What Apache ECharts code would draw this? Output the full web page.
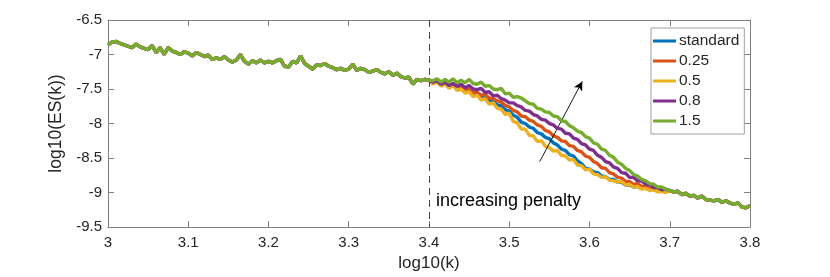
<!DOCTYPE html>
<html>
<head>
<meta charset="utf-8">
<script src="https://cdn.jsdelivr.net/npm/echarts@6/dist/echarts.min.js"></script>
<style>
html,body{margin:0;padding:0;background:#fff;}
#c{width:830px;height:277px;}
</style>
</head>
<body>
<div id="c"></div>
<script>
// x grid: log10(k) from 3.000 to 3.800, step 0.005
var xStart = 3.0, xStep = 0.005;

// shared segment 3.000 - 3.400 (all curves coincide)
var headAll = [
 -6.86,-6.82,-6.81,-6.84,-6.86,-6.88,-6.90,-6.85,-6.89,-6.91,
 -6.93,-6.87,-6.97,-6.90,-7.00,-6.90,-6.95,-6.97,-7.00,-6.96,
 -6.98,-7.02,-6.97,-7.00,-7.03,-7.01,-7.07,-7.05,-7.07,-7.03,
 -7.08,-7.11,-7.08,-7.00,-7.10,-7.14,-7.09,-7.12,-7.08,-7.12,
 -7.10,-7.12,-7.09,-7.07,-7.17,-7.18,-7.10,-7.12,-7.02,-7.13,
 -7.17,-7.21,-7.15,-7.16,-7.13,-7.17,-7.19,-7.22,-7.20,-7.23,
 -7.21,-7.14,-7.23,-7.20,-7.22,-7.26,-7.24,-7.22,-7.26,-7.28,
 -7.25,-7.30,-7.27,-7.32,-7.34,-7.33,-7.43,-7.36,-7.38,-7.36,
 -7.37
];

// individual segments 3.405 - 3.695
var midStandard = [
 -7.41,-7.40,-7.45,-7.42,-7.47,-7.44,-7.49,-7.49,-7.53,-7.53,
 -7.57,-7.58,-7.62,-7.61,-7.67,-7.68,-7.73,-7.74,-7.80,-7.82,
 -7.88,-7.91,-7.98,-8.00,-8.05,-8.07,-8.13,-8.15,-8.20,-8.22,
 -8.28,-8.31,-8.37,-8.39,-8.45,-8.47,-8.54,-8.58,-8.65,-8.66,
 -8.70,-8.71,-8.76,-8.77,-8.81,-8.81,-8.85,-8.85,-8.89,-8.89,
 -8.92,-8.91,-8.94,-8.93,-8.96,-8.95,-8.97,-8.96,-8.98
];
var mid025 = [
 -7.41,-7.39,-7.44,-7.41,-7.46,-7.43,-7.48,-7.48,-7.51,-7.51,
 -7.55,-7.55,-7.59,-7.58,-7.63,-7.64,-7.67,-7.69,-7.74,-7.76,
 -7.81,-7.83,-7.89,-7.90,-7.95,-7.97,-8.02,-8.04,-8.10,-8.12,
 -8.18,-8.20,-8.25,-8.26,-8.32,-8.33,-8.39,-8.41,-8.47,-8.49,
 -8.55,-8.58,-8.64,-8.65,-8.71,-8.73,-8.78,-8.79,-8.84,-8.84,
 -8.88,-8.87,-8.91,-8.91,-8.94,-8.93,-8.96,-8.95,-8.97
];
var mid05 = [
 -7.43,-7.39,-7.46,-7.42,-7.49,-7.44,-7.52,-7.50,-7.56,-7.54,
 -7.61,-7.59,-7.66,-7.64,-7.72,-7.70,-7.78,-7.79,-7.87,-7.85,
 -7.97,-7.99,-8.08,-8.08,-8.17,-8.18,-8.26,-8.25,-8.33,-8.35,
 -8.40,-8.39,-8.46,-8.47,-8.53,-8.52,-8.60,-8.61,-8.67,-8.66,
 -8.73,-8.74,-8.78,-8.77,-8.82,-8.83,-8.85,-8.84,-8.89,-8.88,
 -8.92,-8.91,-8.95,-8.94,-8.97,-8.96,-8.99,-8.98,-9.00
];
var mid08 = [
 -7.40,-7.38,-7.43,-7.40,-7.45,-7.42,-7.46,-7.43,-7.48,-7.45,
 -7.50,-7.51,-7.49,-7.55,-7.54,-7.60,-7.59,-7.64,-7.66,-7.70,
 -7.70,-7.74,-7.76,-7.81,-7.82,-7.87,-7.89,-7.94,-7.95,-8.00,
 -8.02,-8.07,-8.08,-8.14,-8.15,-8.21,-8.23,-8.29,-8.31,-8.37,
 -8.39,-8.46,-8.49,-8.55,-8.57,-8.63,-8.65,-8.71,-8.72,-8.78,
 -8.78,-8.83,-8.83,-8.88,-8.88,-8.93,-8.92,-8.96,-8.95
];
var mid15 = [
 -7.38,-7.35,-7.40,-7.36,-7.40,-7.35,-7.41,-7.37,-7.41,-7.36,
 -7.42,-7.43,-7.40,-7.46,-7.45,-7.50,-7.51,-7.49,-7.57,-7.56,
 -7.62,-7.61,-7.63,-7.67,-7.71,-7.72,-7.78,-7.79,-7.83,-7.84,
 -7.89,-7.90,-7.96,-7.97,-8.03,-8.06,-8.11,-8.13,-8.19,-8.21,
 -8.28,-8.30,-8.37,-8.39,-8.46,-8.49,-8.56,-8.59,-8.65,-8.68,
 -8.74,-8.76,-8.81,-8.83,-8.87,-8.88,-8.92,-8.92,-8.95
];

// shared segment 3.700 - 3.800
var tailAll = [
 -8.97,-8.99,-8.98,-9.03,-9.01,-9.05,-9.04,-9.08,-9.05,-9.10,
 -9.11,-9.12,-9.10,-9.14,-9.12,-9.15,-9.17,-9.15,-9.21,-9.22,
 -9.19
];

var seriesNames = ['standard', '0.25', '0.5', '0.8', '1.5'];
var seriesMids = [midStandard, mid025, mid05, mid08, mid15];
var seriesColors = ['#0072BD', '#D95319', '#EDB120', '#7E2F8E', '#77AC30'];

var yTicks = { min: -9.5, max: -6.5, step: 0.5 };
var xTicks = { min: 3, max: 3.8, step: 0.1 };
var dashedX = 3.4;
var arrowFrom = [3.538, -8.55];
var arrowTo = [3.591, -7.39];
var annotation = 'increasing penalty';

function buildData(mid) {
  var ys = headAll.concat(mid, tailAll);
  var out = [];
  for (var i = 0; i < ys.length; i++) {
    out.push([+(xStart + i * xStep).toFixed(3), ys[i]]);
  }
  return out;
}

var FONT = '"Liberation Sans", Arial, Helvetica, sans-serif';
var AXC = '#7f7f7f';
var TXT = '#262626';

var series = seriesNames.map(function (n, k) {
  return {
    name: n, type: 'line', data: buildData(seriesMids[k]),
    showSymbol: false, symbol: 'none', sampling: null,
    lineStyle: { color: seriesColors[k], width: 3.4 },
    itemStyle: { color: seriesColors[k] },
    z: 2 + k
  };
});

series.push({
  name: '_annot', type: 'line', data: [], silent: true,
  markLine: {
    silent: true, animation: false,
    label: { show: false },
    data: [
      [{ xAxis: dashedX, yAxis: yTicks.max, symbol: 'none', lineStyle: { color: '#444', type: [7, 5], width: 1 } },
       { xAxis: dashedX, yAxis: yTicks.min, symbol: 'none' }],
      [{ coord: arrowFrom, symbol: 'none', lineStyle: { color: '#000', type: 'solid', width: 0.9 } },
       { coord: arrowTo, symbol: 'arrow', symbolSize: [7, 9] }]
    ]
  },
  z: 10
});

var chart = echarts.init(document.getElementById('c'), null, { renderer: 'canvas' });
var fmtX = function (v) { return String(+(+v).toFixed(1)); };
var fmtY = function (v) { return String(+(+v).toFixed(1)); };

chart.setOption({
  animation: false,
  backgroundColor: '#fff',
  textStyle: { fontFamily: FONT },
  grid: { left: 108, right: 80, top: 20, bottom: 45, containLabel: false },
  legend: {
    data: seriesNames,
    orient: 'vertical',
    left: 651, top: 28,
    padding: [5, 5, 5, 2],
    itemWidth: 23, itemHeight: 3, itemGap: 4,
    icon: 'rect',
    backgroundColor: '#fff',
    borderColor: '#a0a0a0', borderWidth: 1, borderRadius: 0,
    textStyle: { fontFamily: FONT, fontSize: 15.5, color: TXT, lineHeight: 15.5, padding: [0, 0, 0, -2] },
    selectedMode: false
  },
  xAxis: [{
    type: 'value', min: xTicks.min, max: xTicks.max, interval: xTicks.step,
    name: 'log10(k)', nameLocation: 'middle', nameGap: 25,
    nameTextStyle: { fontFamily: FONT, fontSize: 17, color: TXT },
    axisLine: { show: true, onZero: false, lineStyle: { color: AXC, width: 1 } },
    axisTick: { show: true, inside: true, length: 6, lineStyle: { color: AXC } },
    axisLabel: { fontFamily: FONT, fontSize: 15, color: TXT, margin: 8, formatter: fmtX },
    splitLine: { show: false }
  }, {
    type: 'value', position: 'top', min: xTicks.min, max: xTicks.max, interval: xTicks.step,
    axisLine: { show: true, onZero: false, lineStyle: { color: AXC, width: 1 } },
    axisTick: { show: true, inside: true, length: 6, lineStyle: { color: AXC } },
    axisLabel: { show: false }, splitLine: { show: false }
  }],
  yAxis: [{
    type: 'value', min: yTicks.min, max: yTicks.max, interval: yTicks.step,
    name: 'log10(ES(k))', nameLocation: 'middle', nameGap: 36, nameRotate: 90,
    nameTextStyle: { fontFamily: FONT, fontSize: 17.5, color: TXT },
    axisLine: { show: true, onZero: false, lineStyle: { color: AXC, width: 1 } },
    axisTick: { show: true, inside: true, length: 6, lineStyle: { color: AXC } },
    axisLabel: { fontFamily: FONT, fontSize: 15, color: TXT, margin: 6, formatter: fmtY },
    splitLine: { show: false }
  }, {
    type: 'value', position: 'right', min: yTicks.min, max: yTicks.max, interval: yTicks.step,
    axisLine: { show: true, onZero: false, lineStyle: { color: AXC, width: 1 } },
    axisTick: { show: true, inside: true, length: 6, lineStyle: { color: AXC } },
    axisLabel: { show: false }, splitLine: { show: false }
  }],
  graphic: [{
    type: 'text', left: 436, top: 192, z: 20,
    style: { text: annotation, font: '18px ' + FONT, fill: '#000' }
  }],
  series: series
});
</script>
</body>
</html>
